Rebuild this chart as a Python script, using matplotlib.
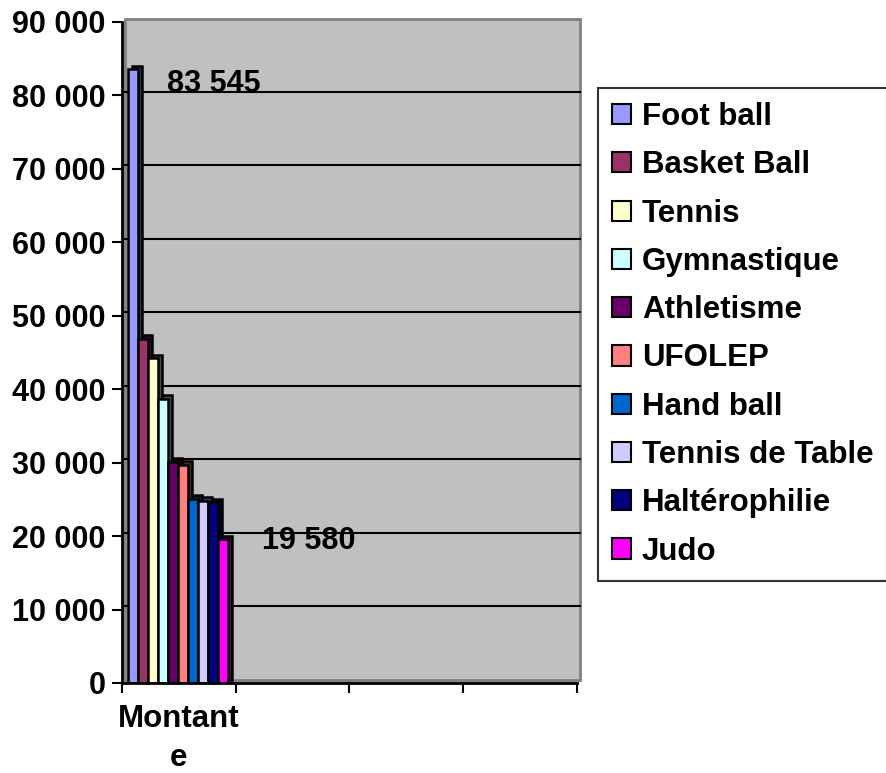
import matplotlib
matplotlib.use("Agg")
import matplotlib.pyplot as plt
from matplotlib.transforms import ScaledTranslation
from matplotlib.patches import Rectangle, Patch
from matplotlib.font_manager import FontProperties
from matplotlib.ticker import FuncFormatter
import numpy as np

categories = ["Foot ball", "Basket Ball", "Tennis", "Gymnastique", "Athletisme",
              "UFOLEP", "Hand ball", "Tennis de Table", "Haltérophilie", "Judo"]
values = [83545, 46900, 44200, 38700, 30100, 29700, 25100, 24800, 24600, 19580]
colors = ["#9999FF", "#993366", "#FFFFCC", "#CCFFFF", "#660066",
          "#FF8080", "#0066CC", "#CCCCFF", "#000080", "#FF00FF"]
group_label = "Montant\ne"
y_ticks = [0, 10000, 20000, 30000, 40000, 50000, 60000, 70000, 80000, 90000]
shown_labels = {0: "83 545", 9: "19 580"}

FAM = "Liberation Sans"
W, H = 887, 773
fig = plt.figure(figsize=(W / 100, H / 100), dpi=100)
ax = fig.add_axes([122 / W, 1 - 683 / H, 455 / W, 661 / H])
ax.set_xlim(0, 4)
ax.set_ylim(0, 90000)
ax.set_facecolor("#999999")

off = ScaledTranslation(3.5 / 100, 3.5 / 100, fig.dpi_scale_trans)

# back wall
wall = Rectangle((0, 0), 1, 1, transform=ax.transAxes + off, fc="#c0c0c0",
                 ec="#808080", lw=2, zorder=0.5, clip_on=False)
ax.add_patch(wall)

# gridlines on the back wall
for v in y_ticks[1:-1]:
    ax.plot([0, 4], [v, v], color="black", lw=1.5, transform=ax.transData + off,
            zorder=1, clip_on=False)

# bars with depth
pitch = 10 / 113.75
left0 = (128.3 - 122) / 113.75
xs = left0 + np.arange(len(values)) * pitch


def darker(c, f=0.3):
    r, g, b = matplotlib.colors.to_rgb(c)
    return (r * f, g * f, b * f)


for i, (x, v, c) in enumerate(zip(xs, values, colors)):
    ax.bar([x], [v], width=pitch, align="edge", color=darker(c), edgecolor="black",
           lw=1.8, transform=ax.transData + off, zorder=2 + 2 * i, clip_on=False)
    ax.bar([x], [v], width=pitch, align="edge", color=c, edgecolor="black",
           lw=1.8, zorder=3 + 2 * i)

# data labels
ax.text(0.804, 81500, shown_labels[0], ha="center", va="center", fontsize=22,
        fontweight="bold", family=FAM, zorder=40)
ax.text(1.644, 19300, shown_labels[9], ha="center", va="center", fontsize=22,
        fontweight="bold", family=FAM, zorder=40)

# axes styling
for s in ["top", "right"]:
    ax.spines[s].set_visible(False)
for s in ["left", "bottom"]:
    ax.spines[s].set_color("black")
    ax.spines[s].set_linewidth(2)
    ax.spines[s].set_zorder(50)

ax.set_yticks(y_ticks)
ax.yaxis.set_major_formatter(FuncFormatter(lambda v, p: f"{int(v):,}".replace(",", " ")))
ax.tick_params(axis="y", length=7, width=1.5, pad=5, direction="out")
for lab in ax.get_yticklabels():
    lab.set_fontsize(22)
    lab.set_fontweight("bold")
    lab.set_family(FAM)

ax.set_xticks([0, 1, 2, 3, 4])
ax.set_xticklabels([])
ax.tick_params(axis="x", which="major", length=7, width=1.5, direction="out")
ax.set_xticks([0.5], minor=True)
ax.set_xticklabels([group_label], minor=True, fontsize=22.5, fontweight="bold",
                   family=FAM, linespacing=1.38)
ax.tick_params(axis="x", which="minor", length=0, pad=15)

handles = [Patch(fc=c, ec="black", lw=1.5) for c in colors]
leg = fig.legend(handles, categories, loc="upper left",
                 bbox_to_anchor=(598 / W, 1 - 88 / H),
                 prop=FontProperties(family=FAM, weight="bold", size=22.5),
                 frameon=True, fancybox=False, edgecolor="black",
                 handlelength=0.62, handleheight=0.62, handletextpad=0.33,
                 labelspacing=0.585, borderpad=0.45, borderaxespad=0)
leg.get_frame().set_linewidth(1.5)

fig.savefig("out.png", dpi=100)
